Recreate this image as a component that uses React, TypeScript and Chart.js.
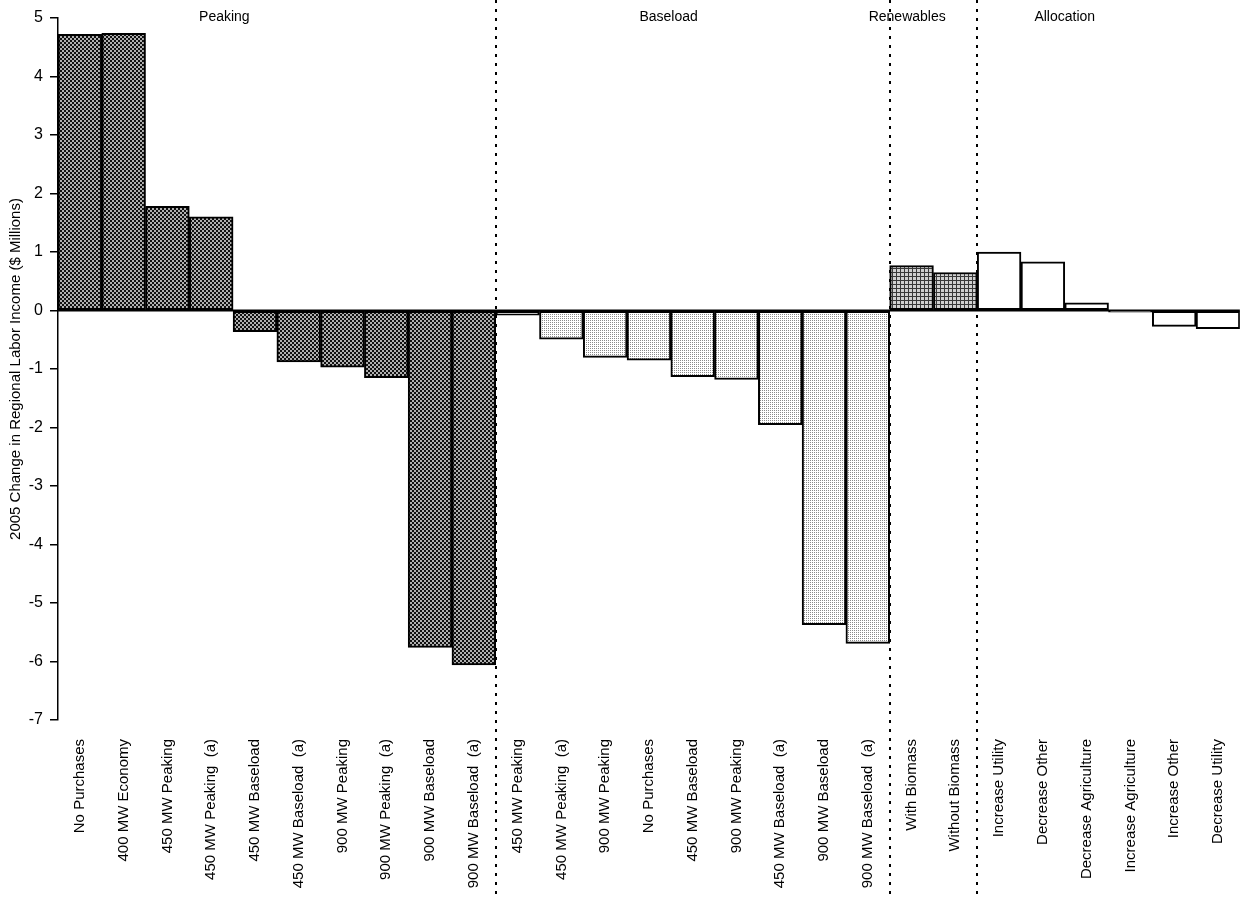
import React, { useEffect, useRef } from "react";
import { Chart, registerables } from "chart.js";
Chart.register(...registerables);

const peakingLabels = [
  "No Purchases", "400 MW Economy", "450 MW Peaking", "450 MW Peaking  (a)", "450 MW Baseload",
  "450 MW Baseload  (a)", "900 MW Peaking", "900 MW Peaking  (a)", "900 MW Baseload", "900 MW Baseload  (a)",
];
const peakingValues = [4.72, 4.74, 1.78, 1.6, -0.36, -0.88, -0.97, -1.15, -5.76, -6.06];

const baseloadLabels = [
  "450 MW Peaking", "450 MW Peaking  (a)", "900 MW Peaking", "No Purchases", "450 MW Baseload",
  "900 MW Peaking", "450 MW Baseload  (a)", "900 MW Baseload", "900 MW Baseload  (a)",
];
const baseloadValues = [-0.08, -0.49, -0.8, -0.85, -1.13, -1.18, -1.95, -5.37, -5.69];

const renewablesLabels = ["With Biomass", "Without Biomass"];
const renewablesValues = [0.77, 0.65];

const allocationLabels = [
  "Increase Utility", "Decrease Other", "Decrease Agriculture", "Increase Agriculture", "Increase Other", "Decrease Utility",
];
const allocationValues = [1.0, 0.83, 0.13, -0.03, -0.27, -0.31];

const groupNames = ["Peaking", "Baseload", "Renewables", "Allocation"];
const yMin = -7;
const yMax = 5;
const yTitle = "2005 Change in Regional Labor Income ($ Millions)";

// annotation placement (category-index units) for group headings
const groupLabelAt = [3.3, 13.45, 18.9, 22.5];

const FONT = '"Liberation Sans Narrow", "Arial Narrow", "Liberation Sans", Arial, sans-serif';

function makePattern(kind: string): CanvasPattern | string {
  const c = document.createElement("canvas");
  const g = c.getContext("2d");
  if (!g) return "#888";
  if (kind === "dark") {
    c.width = 4; c.height = 4;
    g.fillStyle = "#111111"; g.fillRect(0, 0, 4, 4);
    g.fillStyle = "#b0b0b0";
    g.fillRect(0, 0, 2, 2); g.fillRect(2, 2, 2, 2);
  } else if (kind === "light") {
    c.width = 2; c.height = 2;
    g.fillStyle = "#ffffff"; g.fillRect(0, 0, 2, 2);
    g.fillStyle = "#8a8a8a"; g.fillRect(0, 0, 1, 1);
  } else if (kind === "grid") {
    c.width = 4; c.height = 4;
    g.fillStyle = "#d0d0d0"; g.fillRect(0, 0, 4, 4);
    g.fillStyle = "#383838"; g.fillRect(0, 0, 4, 1); g.fillRect(0, 0, 1, 4);
  } else {
    c.width = 1; c.height = 1;
    g.fillStyle = "#ffffff"; g.fillRect(0, 0, 1, 1);
  }
  return g.createPattern(c, "repeat") || "#888";
}

export default function App() {
  const ref = useRef<HTMLCanvasElement | null>(null);
  useEffect(() => {
    const canvas = ref.current;
    if (!canvas) return;
    const groups = [
      { labels: peakingLabels, values: peakingValues, fill: makePattern("dark") },
      { labels: baseloadLabels, values: baseloadValues, fill: makePattern("light") },
      { labels: renewablesLabels, values: renewablesValues, fill: makePattern("grid") },
      { labels: allocationLabels, values: allocationValues, fill: makePattern("white") },
    ];
    const labels: string[] = [];
    const values: number[] = [];
    const fills: any[] = [];
    const boundaries: number[] = [];
    groups.forEach((g, gi) => {
      g.labels.forEach((l, i) => {
        labels.push(l);
        values.push(g.values[i]);
        fills.push(g.fill);
      });
      if (gi < groups.length - 1) boundaries.push(labels.length);
    });

    const overlay = {
      id: "overlay",
      afterDatasetsDraw(chart: any) {
        const ctx = chart.ctx;
        const xs = chart.scales.x;
        const ys = chart.scales.y;
        const area = chart.chartArea;
        ctx.save();
        // zero line
        const y0 = ys.getPixelForValue(0);
        ctx.strokeStyle = "#000";
        ctx.lineWidth = 2;
        ctx.beginPath();
        ctx.moveTo(area.left, y0);
        ctx.lineTo(area.right, y0);
        ctx.stroke();
        // dotted separators
        ctx.setLineDash([3, 6]);
        ctx.lineWidth = 2;
        boundaries.forEach((b) => {
          const x = Math.round((xs.getPixelForValue(b - 1) + xs.getPixelForValue(b)) / 2);
          ctx.beginPath();
          ctx.moveTo(x, 0);
          ctx.lineTo(x, chart.height);
          ctx.stroke();
        });
        ctx.setLineDash([]);
        // group headings
        ctx.fillStyle = "#000";
        ctx.font = "14px " + FONT;
        ctx.textAlign = "center";
        ctx.textBaseline = "middle";
        groupNames.forEach((n, i) => {
          ctx.fillText(n, xs.getPixelForValue(groupLabelAt[i]), 17);
        });
        ctx.restore();
      },
    };

    const chart = new Chart(canvas, {
      type: "bar",
      data: {
        labels,
        datasets: [
          {
            data: values,
            backgroundColor: fills,
            borderColor: "#000",
            borderWidth: 2,
            borderSkipped: false,
            categoryPercentage: 1,
            barPercentage: 1,
          },
        ],
      },
      options: {
        responsive: false,
        animation: false,
        layout: { padding: { left: 0, top: 18, right: 2, bottom: 0 } },
        plugins: { legend: { display: false }, tooltip: { enabled: false }, title: { display: false } },
        scales: {
          x: {
            grid: { display: false },
            border: { display: false },
            ticks: {
              autoSkip: false,
              maxRotation: 90,
              minRotation: 90,
              padding: 11,
              color: "#000",
              font: { family: FONT, size: 15 },
            },
            afterFit: (s: any) => { s.height = 178; },
          },
          y: {
            min: yMin,
            max: yMax,
            grid: { display: true, drawOnChartArea: false, drawTicks: true, tickLength: 8, color: "#000", lineWidth: 1.5 },
            border: { display: true, color: "#000", width: 1.5 },
            ticks: { stepSize: 1, padding: 7, color: "#000", font: { family: FONT, size: 16 } },
            title: { display: true, text: yTitle, color: "#000", font: { family: FONT, size: 15 }, padding: { top: 7, bottom: 0 } },
            afterFit: (s: any) => { s.width = 58; },
          },
        },
      },
      plugins: [overlay],
    } as any);
    return () => chart.destroy();
  }, []);

  return (
    <div style={{ position: "absolute", left: 0, top: 0, width: 1247, height: 898, background: "#fff" }}>
      <canvas ref={ref} width={1247} height={898} style={{ display: "block" }} />
    </div>
  );
}
